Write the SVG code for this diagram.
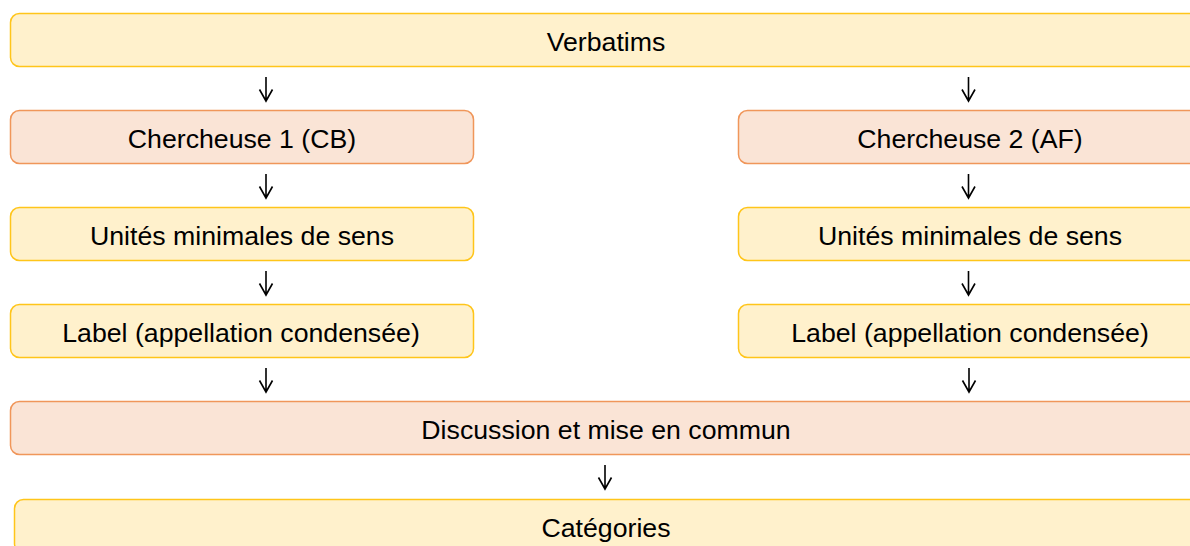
<svg xmlns="http://www.w3.org/2000/svg" width="1190" height="546" viewBox="0 0 1190 546">
<style>
.y{fill:#fff1cc;stroke:#ffc51a;stroke-width:1.5}
.o{fill:#fae4d6;stroke:#f0965a;stroke-width:1.5}
text{font-family:"Liberation Sans",Arial,sans-serif;font-size:26.7px;fill:#000;text-anchor:middle}
.a{fill:none;stroke:#000;stroke-width:1.6}
</style>
<rect width="1190" height="546" fill="#fff"/>
<g id="verbatims"><rect class="y" x="10.5" y="13.5" width="1192" height="53" rx="9"/><text x="606" y="50.5">Verbatims</text></g>
<g id="chercheuse1"><rect class="o" x="10.5" y="110.5" width="463" height="53" rx="9"/><text x="242" y="147.5">Chercheuse 1 (CB)</text></g>
<g id="chercheuse2"><rect class="o" x="738.5" y="110.5" width="463" height="53" rx="9"/><text x="970" y="147.5">Chercheuse 2 (AF)</text></g>
<g id="unites1"><rect class="y" x="10.5" y="207.5" width="463" height="53" rx="9"/><text x="242" y="244.5">Unités minimales de sens</text></g>
<g id="unites2"><rect class="y" x="738.5" y="207.5" width="463" height="53" rx="9"/><text x="970" y="244.5">Unités minimales de sens</text></g>
<g id="label1"><rect class="y" x="10.5" y="304.5" width="463" height="53" rx="9"/><text x="241" y="341.5">Label (appellation condensée)</text></g>
<g id="label2"><rect class="y" x="738.5" y="304.5" width="463" height="53" rx="9"/><text x="970" y="341.5">Label (appellation condensée)</text></g>
<g id="discussion"><rect class="o" x="10.5" y="401.5" width="1192" height="53" rx="9"/><text x="606" y="438.5">Discussion et mise en commun</text></g>
<g id="categories"><rect class="y" x="14.5" y="499.5" width="1184" height="53" rx="9"/><text x="606" y="536.5">Catégories</text></g>
<g id="connectors">
<path class="a" d="M266 77V101M259.5 89.5L266 101L272.5 89.5"/>
<path class="a" d="M968.5 77V101M962 89.5L968.5 101L975 89.5"/>
<path class="a" d="M266 174V198M259.5 186.5L266 198L272.5 186.5"/>
<path class="a" d="M968.5 174V198M962 186.5L968.5 198L975 186.5"/>
<path class="a" d="M266 271V295M259.5 283.5L266 295L272.5 283.5"/>
<path class="a" d="M968.5 271V295M962 283.5L968.5 295L975 283.5"/>
<path class="a" d="M266 368V392M259.5 380.5L266 392L272.5 380.5"/>
<path class="a" d="M969 368V392M962.5 380.5L969 392L975.5 380.5"/>
<path class="a" d="M605 465V489M598.5 477.5L605 489L611.5 477.5"/>
</g>
</svg>
